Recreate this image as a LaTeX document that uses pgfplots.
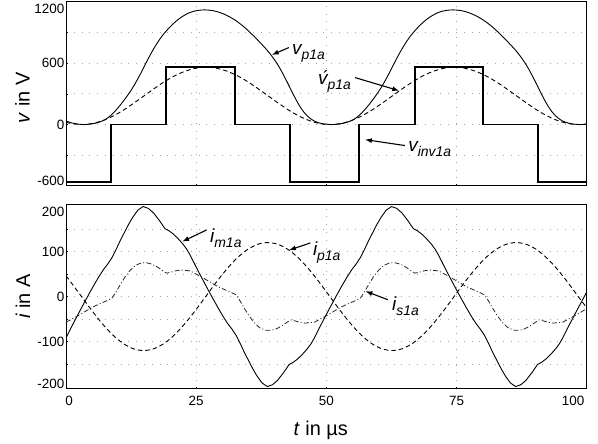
\documentclass[border=0pt]{standalone}
\usepackage{fontspec}
\setmainfont{Liberation Sans}
\usepackage{pgfplots}
\pgfplotsset{compat=1.18}
\usetikzlibrary{arrows.meta}
\newcommand{\lab}[2]{{\fontsize{19}{19}\selectfont\itshape #1}\raisebox{-5bp}{\fontsize{14}{14}\selectfont\itshape #2}}
\tikzset{myarrow/.style={-{Latex[length=7bp,width=5bp]}, line width=1.1bp, black}}
\pgfplotsset{
  myax/.style={
    scale only axis, width=520.7bp, xmin=0, xmax=100,
    axis line style={line width=1bp, black},
    grid=major, grid style={line width=0.8bp, gray!70, dash pattern=on 0.8bp off 7bp},
    xtick={25,50,75},
    tick pos=left, tick align=inside, major tick length=2bp, tick style={black, line width=0.6bp},
    tick label style={font=\fontsize{13.5}{14}\selectfont},
    yticklabel style={inner sep=1.5bp},
    xticklabel style={yshift=-4bp},
    extra tick style={grid=none, major tick length=0pt},
    clip mode=individual,
  },
}
\begin{document}
\begin{tikzpicture}
\useasboundingbox (0,0) rectangle (598bp,444bp);
% ---------------- top axis ----------------
\begin{axis}[myax, at={(66bp,258bp)}, anchor=south west, height=184.3bp,
  ymin=-600, ymax=1200, ytick={-300,0,300,600,900}, yticklabels={,0,,600,},
  xticklabels={},
  extra y ticks={-554,1130}, extra y tick labels={-600,1200}]
% v_p1a (solid)
\addplot[black, line width=0.9bp, smooth] coordinates {
(0,35)(1.0,18)(2.0,7)(3.3,0)(4.5,4)(5.5,12)(6.5,26)(7.5,48)(8.5,85)(9.5,135)
(10.5,195)(11.5,262)(12.5,335)(13.5,420)(14.5,515)(15.5,615)(16.5,710)(17.5,795)
(18.5,868)(19.5,928)(20.5,980)(21.5,1025)(22.5,1060)(23.5,1088)(24.5,1106)(25.5,1116)
(26.7,1120)(28.2,1113)(29.7,1092)(31.2,1058)(32.7,1012)(34.2,953)(35.7,882)(37.2,805)
(38.7,722)(39.7,657)(40.7,582)(41.7,492)(42.7,392)(43.7,290)(44.7,195)(45.7,120)
(46.7,68)(47.7,34)(48.7,15)(49.7,5)(51.0,0)
(52.2,4)(53.2,12)(54.2,26)(55.2,48)(56.2,85)(57.2,135)(58.2,195)(59.2,262)(60.2,335)
(61.2,420)(62.2,515)(63.2,615)(64.2,710)(65.2,795)(66.2,868)(67.2,928)(68.2,980)
(69.2,1025)(70.2,1060)(71.2,1088)(72.2,1106)(73.2,1116)(74.4,1120)
(75.9,1113)(77.4,1092)(78.9,1058)(80.4,1012)(81.9,953)(83.4,882)(84.9,805)(86.4,722)
(87.4,657)(88.4,582)(89.4,492)(90.4,392)(91.4,290)(92.4,195)(93.4,120)(94.4,68)
(95.4,34)(96.4,15)(97.4,5)(98.7,0)(100,4)};
% fundamental (dashed)
\addplot[black, line width=0.9bp, smooth, dash pattern=on 4.5bp off 3bp] coordinates {
(0,22)(1.06,10)(3.05,0)(5.04,10)(7.03,38)(9.01,82)(11.0,140)(12.99,208)(14.98,280)
(16.96,352)(18.95,420)(20.94,478)(22.93,522)(24.91,550)(26.9,560)(28.89,550)(30.88,522)
(32.86,478)(34.85,420)(36.84,352)(38.83,280)(40.81,208)(42.8,140)(44.79,82)(46.78,38)
(48.76,10)(50.75,0)(52.74,10)(54.73,38)(56.71,82)(58.7,140)(60.69,208)(62.68,280)
(64.66,352)(66.65,420)(68.64,478)(70.63,522)(72.61,550)(74.6,560)(76.59,550)(78.58,522)
(80.56,478)(82.55,420)(84.54,352)(86.53,280)(88.51,208)(90.5,140)(92.49,82)(94.48,38)
(96.46,10)(98.45,0)(100,6)};
% v_inv1a (square wave)
\addplot[black, line width=1.6bp] coordinates {
(0,-560)(8.6,-560)(8.6,0)(19.2,0)(19.2,560)(32.5,560)(32.5,0)(43,0)(43,-560)
(56.3,-560)(56.3,0)(67,0)(67,560)(80.1,560)(80.1,0)(90.7,0)(90.7,-560)(100,-560)};
\node[anchor=base west, inner sep=0pt] at (43.4,684) {\lab{v}{p1a}};
\draw[myarrow] (42.8,752) -- (39.5,680);
\node[anchor=base west, inner sep=0pt] at (48.4,391) {\lab{\'v}{p1a}};
\draw[myarrow] (55.5,459) -- (64.0,330);
\node[anchor=base west, inner sep=0pt] at (65.7,-261) {\lab{v}{inv1a}};
\draw[myarrow] (65.1,-205) -- (57.4,-147);
\end{axis}
% ---------------- bottom axis ----------------
\begin{axis}[myax, at={(66bp,55.2bp)}, anchor=south west, height=184.5bp,
  ymin=-205, ymax=205, ytick={-150,-100,-50,0,50,100,150}, yticklabels={,-100,,0,,100,},
  xticklabels={25,50,75},
  extra y ticks={-193,188}, extra y tick labels={-200,200},
  extra x ticks={0.6,97.4}, extra x tick labels={0,100}]
% i_m1a (solid)
\addplot[black, line width=0.9bp] coordinates {
(0,-92)(1.3,-62)(2.7,-31)(4.0,-3)(5.2,22)(6.2,42)(7.2,60)(8.0,72)(8.8,86)(9.6,104)
(10.4,124)(11.2,142)(12.0,160)(12.8,176)(13.8,192)(14.8,200)(15.8,196)(16.8,186)(18.0,168)
(19.0,151)(19.8,146)(20.6,139)(21.5,129)(22.5,116)(23.2,105)(23.85,92)
(25.15,62)(26.55,31)(27.85,3)(29.05,-22)(30.05,-42)(31.05,-60)(31.85,-72)(32.65,-86)
(33.45,-104)(34.25,-124)(35.05,-142)(35.85,-160)(36.65,-176)(37.65,-192)(38.65,-200)
(39.65,-196)(40.65,-186)(41.85,-168)(42.85,-151)(43.65,-146)(44.45,-139)(45.35,-129)
(46.35,-116)(47.05,-105)(47.7,-92)
(49.0,-62)(50.4,-31)(51.7,-3)(52.9,22)(53.9,42)(54.9,60)(55.7,72)(56.5,86)(57.3,104)
(58.1,124)(58.9,142)(59.7,160)(60.5,176)(61.5,192)(62.5,200)(63.5,196)(64.5,186)
(65.7,168)(66.7,151)(67.5,146)(68.3,139)(69.2,129)(70.2,116)(70.9,105)(71.55,92)
(72.85,62)(74.25,31)(75.55,3)(76.75,-22)(77.75,-42)(78.75,-60)(79.55,-72)(80.35,-86)
(81.15,-104)(81.95,-124)(82.75,-142)(83.55,-160)(84.35,-176)(85.35,-192)(86.35,-200)
(87.35,-196)(88.35,-186)(89.55,-168)(90.55,-151)(91.35,-146)(92.15,-139)(93.05,-129)
(94.05,-116)(94.75,-105)(95.4,-92)
(96.7,-62)(98.1,-31)(99.4,-3)(100,10)};
% i_p1a (dashed)
\addplot[black, line width=0.9bp, smooth, dash pattern=on 4.5bp off 3bp] coordinates {
(0,46)(0.99,31.1)(2.98,0)(4.96,-31.1)(6.95,-60)(8.94,-84.9)(10.93,-103.9)(12.91,-115.9)
(14.9,-120)(16.89,-115.9)(18.88,-103.9)(20.86,-84.9)(22.85,-60)(24.84,-31.1)(26.83,0)
(28.81,31.1)(30.8,60)(32.79,84.9)(34.78,103.9)(36.76,115.9)(38.75,120)(40.74,115.9)
(42.73,103.9)(44.71,84.9)(46.7,60)(48.69,31.1)(50.68,0)(52.66,-31.1)(54.65,-60)
(56.64,-84.9)(58.63,-103.9)(60.61,-115.9)(62.6,-120)(64.59,-115.9)(66.58,-103.9)
(68.56,-84.9)(70.55,-60)(72.54,-31.1)(74.53,0)(76.51,31.1)(78.5,60)(80.49,84.9)
(82.48,103.9)(84.46,115.9)(86.45,120)(88.44,115.9)(90.43,103.9)(92.41,84.9)(94.4,60)
(96.39,31.1)(98.38,0)(100,-25)};
% i_s1a (dash-dot)
\addplot[black!85, line width=0.8bp, dash pattern=on 5bp off 2.2bp on 1bp off 2.2bp] coordinates {
(0,-57)(1.3,-49)(2.7,-40)(4.0,-31)(5.2,-23)(6.5,-16)(7.7,-10)(8.8,-4)(9.6,10)(10.4,26)
(11.3,43)(12.3,58)(13.3,69)(14.5,75)(15.5,75)(16.5,72)(17.5,66)(18.5,58)(19.3,52)(20.1,54)
(21.0,57)(22.0,59)(23.0,58)(23.85,57)
(25.15,49)(26.55,40)(27.85,31)(29.05,23)(30.35,16)(31.55,10)(32.65,4)(33.45,-10)(34.25,-26)
(35.15,-43)(36.15,-58)(37.15,-69)(38.35,-75)(39.35,-75)(40.35,-72)(41.35,-66)(42.35,-58)
(43.15,-52)(43.95,-54)(44.85,-57)(45.85,-59)(46.85,-58)(47.7,-57)
(49.0,-49)(50.4,-40)(51.7,-31)(52.9,-23)(54.2,-16)(55.4,-10)(56.5,-4)(57.3,10)(58.1,26)
(59.0,43)(60.0,58)(61.0,69)(62.2,75)(63.2,75)(64.2,72)(65.2,66)(66.2,58)(67.0,52)(67.8,54)
(68.7,57)(69.7,59)(70.7,58)(71.55,57)
(72.85,49)(74.25,40)(75.55,31)(76.75,23)(78.05,16)(79.25,10)(80.35,4)(81.15,-10)(81.95,-26)
(82.85,-43)(83.85,-58)(84.85,-69)(86.05,-75)(87.05,-75)(88.05,-72)(89.05,-66)(90.05,-58)
(90.85,-52)(91.65,-54)(92.55,-57)(93.55,-59)(94.55,-58)(95.4,-57)
(96.7,-49)(98.1,-40)(99.4,-31)(100,-27)};
\node[anchor=base west, inner sep=0pt] at (27.65,120) {\lab{i}{m1a}};
\draw[myarrow] (27.0,148) -- (22.3,122);
\node[anchor=base west, inner sep=0pt] at (47.4,91.6) {\lab{i}{p1a}};
\draw[myarrow] (46.9,119) -- (42.8,103);
\node[anchor=base west, inner sep=0pt] at (62.6,-30) {\lab{i}{s1a}};
\draw[myarrow] (61.8,-7) -- (57.5,12);
\end{axis}
% axis labels
\node[rotate=90, anchor=base, inner sep=0pt, font=\fontsize{20}{20}\selectfont] at (29.5bp,346bp) {\textit{v} in V};
\node[rotate=90, anchor=base, inner sep=0pt, font=\fontsize{20}{20}\selectfont] at (30bp,147.5bp) {\textit{i} in A};
\node[anchor=base, inner sep=0pt, font=\fontsize{20}{20}\selectfont] at (320.8bp,9bp) {\textit{t} in µs};
\end{tikzpicture}
\end{document}
